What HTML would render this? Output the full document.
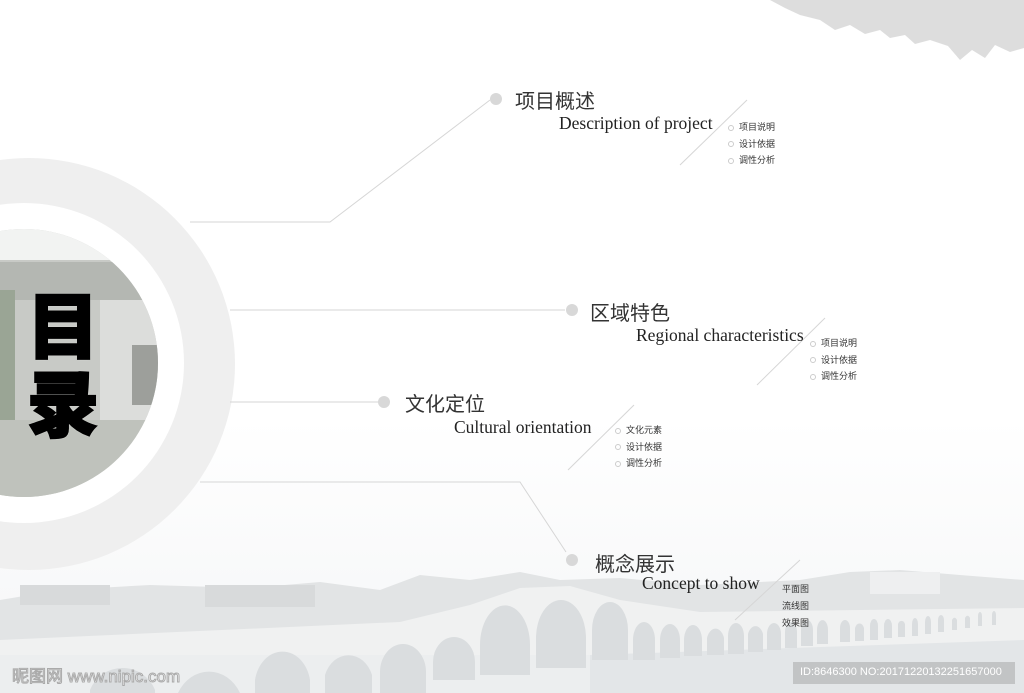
<!DOCTYPE html>
<html><head><meta charset="utf-8"><style>
body{margin:0;width:1024px;height:693px;overflow:hidden;background:#fff;position:relative;font-family:"Liberation Serif","Noto Serif CJK SC",serif}
.t{position:absolute;white-space:nowrap;color:#222}
.cn{font-family:"Liberation Sans","Noto Sans CJK SC",sans-serif;font-size:20px;color:#333}
.en{font-size:17.5px;color:#222}
.s{font-family:"Liberation Sans","Noto Sans CJK SC",sans-serif;font-size:9px;color:#333;line-height:16.5px}
.s span{display:inline-block;width:4px;height:4px;border:1px solid #ccc;border-radius:50%;margin-right:5px;vertical-align:middle}
</style></head><body>
<svg width="1024" height="693" style="position:absolute;left:0;top:0">
<defs>
<linearGradient id="sky" x1="0" y1="0" x2="0" y2="1"><stop offset="0" stop-color="#fff"/><stop offset="1" stop-color="#eceef0"/></linearGradient>
<clipPath id="inner"><circle cx="24" cy="363" r="134"/></clipPath>
</defs>
<rect x="0" y="420" width="1024" height="273" fill="url(#sky)" opacity="0.6"/>
<path d="M770 0 H1024 V48 L1010 52 995 45 985 58 972 50 960 60 948 46 930 40 915 44 905 35 890 38 880 30 865 34 850 25 835 30 820 20 800 15 785 8 Z" fill="#d4d4d4" opacity="0.8"/>
<path d="M0 600 L60 590 150 585 250 588 320 582 380 590 420 575 470 580 520 572 560 580 620 578 700 585 800 580 850 572 900 570 960 575 1024 580 V640 H0 Z" fill="#e2e4e5"/>
<rect x="20" y="585" width="90" height="20" fill="#d8dadb"/>
<rect x="205" y="585" width="110" height="22" fill="#d8dadb"/>
<rect x="870" y="572" width="70" height="22" fill="#eeeff0"/>
<path d="M0 640 L400 622 470 605 520 588 570 586 620 600 700 612 1024 608 V693 H0 Z" fill="#f0f1f1"/>
<rect x="0" y="655" width="1024" height="38" fill="#eceeef"/>
<path d="M590 655 L1024 640 V693 H590Z" fill="#e3e6e8"/>
<g fill="#dadddf">
<path d="M90 693 V690 A35 35 0 0 1 155 690 V693Z"/>
<path d="M178 693 A35 40 0 0 1 240 693Z"/>
<path d="M255 693 V680 A28 35 0 0 1 310 680 V693Z"/>
<path d="M325 693 V675 A25 30 0 0 1 372 675 V693Z"/>
<path d="M380 693 V672 A23 28 0 0 1 426 672 V693Z"/>
<path d="M433 680 V662 A21 25 0 0 1 475 662 V680Z"/>
<path d="M480 675 V645 A24 38 0 0 1 530 645 V675Z"/>
<path d="M536 668 V638 A25 38 0 0 1 586 638 V668Z"/>
<path d="M592 660 V630 A18 28 0 0 1 628 630 V660Z"/>
<path d="M633 660 V640 A11 18 0 0 1 655 640 V660Z"/>
<path d="M660 658 V640 A10 16 0 0 1 680 640 V658Z"/>
<path d="M684 656 V640 A9 15 0 0 1 702 640 V656Z"/>
<path d="M707 655 V638 A9 14 0 0 1 724 638 V655Z"/>
<path d="M728 654 V636 A8 13 0 0 1 744 636 V654Z"/>
<path d="M748 652 V634 A8 12 0 0 1 763 634 V652Z"/>
<path d="M767 650 V634 A7 11 0 0 1 781 634 V650Z"/>
<path d="M785 648 V632 A6 10 0 0 1 797 632 V648Z"/>
<path d="M801 646 V630 A6 10 0 0 1 813 630 V646Z"/>
<path d="M817 644 V630 A5 9 0 0 1 828 630 V644Z"/>
<path d="M840 642 V628 A5 8 0 0 1 850 628 V642Z"/>
<path d="M855 641 V628 A5 8 0 0 1 864 628 V641Z"/>
<path d="M870 640 V626 A4 7 0 0 1 878 626 V640Z"/>
<path d="M884 638 V626 A4 7 0 0 1 892 626 V638Z"/>
<path d="M898 637 V624 A4 6 0 0 1 905 624 V637Z"/>
<path d="M912 636 V624 A3 6 0 0 1 918 624 V636Z"/>
<path d="M925 634 V622 A3 6 0 0 1 931 622 V634Z"/>
<path d="M938 632 V620 A3 5 0 0 1 944 620 V632Z"/>
<path d="M952 630 V620 A3 5 0 0 1 957 620 V630Z"/>
<path d="M965 628 V618 A3 5 0 0 1 970 618 V628Z"/>
<path d="M978 626 V616 A2 4 0 0 1 982 616 V626Z"/>
<path d="M992 625 V615 A2 4 0 0 1 996 615 V625Z"/>
</g>
<circle cx="29" cy="364" r="206" fill="#efefef"/>
<circle cx="24" cy="363" r="160" fill="#fff"/>
<g clip-path="url(#inner)">
<rect x="-120" y="220" width="300" height="300" fill="#c8cac6"/>
<rect x="-120" y="220" width="300" height="40" fill="#f2f3f2"/>
<rect x="0" y="262" width="170" height="38" fill="#b4b7b2"/>
<rect x="100" y="300" width="60" height="120" fill="#dcdddb"/>
<rect x="132" y="345" width="26" height="60" fill="#9d9f9b"/>
<rect x="-10" y="290" width="25" height="150" fill="#9aa595"/>
<rect x="-120" y="420" width="300" height="100" fill="#bfc2bc"/>
</g>
<g stroke="#d6d6d6" stroke-width="1" fill="none">
<polyline points="190,222 330,222 490,100"/>
<line x1="230" y1="310" x2="565" y2="310"/>
<line x1="230" y1="402" x2="378" y2="402"/>
<polyline points="200,482 520,482 566,552"/>
<line x1="680" y1="165" x2="747" y2="100"/>
<line x1="757" y1="385" x2="825" y2="318"/>
<line x1="568" y1="470" x2="634" y2="405"/>
<line x1="735" y1="620" x2="800" y2="560"/>
</g>
<g fill="#d8d8d8">
<circle cx="496" cy="99" r="6"/>
<circle cx="572" cy="310" r="6"/>
<circle cx="384" cy="402" r="6"/>
<circle cx="572" cy="560" r="6"/>
</g>
<rect x="793" y="662" width="222" height="22" fill="#b9bbbc" opacity="0.8"/>
</svg>
<div class="t" style="left:27px;top:290px;font-family:'Liberation Sans','Noto Sans CJK SC',sans-serif;font-size:72px;font-weight:900;line-height:78px;color:#000;-webkit-text-stroke:2px #000;text-shadow:0 0 2px #fff">目<br>录</div>
<div class="t cn" style="left:515px;top:85px">项目概述</div>
<div class="t en" style="left:559px;top:113px">Description of project</div>
<div class="t s" style="left:728px;top:119px"><span></span>项目说明<br><span></span>设计依据<br><span></span>调性分析</div>
<div class="t cn" style="left:590px;top:297px">区域特色</div>
<div class="t en" style="left:636px;top:325px">Regional characteristics</div>
<div class="t s" style="left:810px;top:335px"><span></span>项目说明<br><span></span>设计依据<br><span></span>调性分析</div>
<div class="t cn" style="left:405px;top:388px">文化定位</div>
<div class="t en" style="left:454px;top:417px">Cultural orientation</div>
<div class="t s" style="left:615px;top:422px"><span></span>文化元素<br><span></span>设计依据<br><span></span>调性分析</div>
<div class="t cn" style="left:595px;top:548px">概念展示</div>
<div class="t en" style="left:642px;top:573px">Concept to show</div>
<div class="t s" style="left:782px;top:581px;line-height:17px">平面图<br>流线图<br>效果图</div>
<div class="t" style="left:800px;top:666px;font-family:'Liberation Sans',sans-serif;font-size:11px;color:#fff">ID:8646300 NO:20171220132251657000</div>
<div class="t" style="left:12px;top:662px;font-family:'Liberation Sans','Noto Sans CJK SC',sans-serif;font-size:17px;color:#fff;-webkit-text-stroke:1px #aaa">昵图网 www.nipic.com</div>
</body></html>
